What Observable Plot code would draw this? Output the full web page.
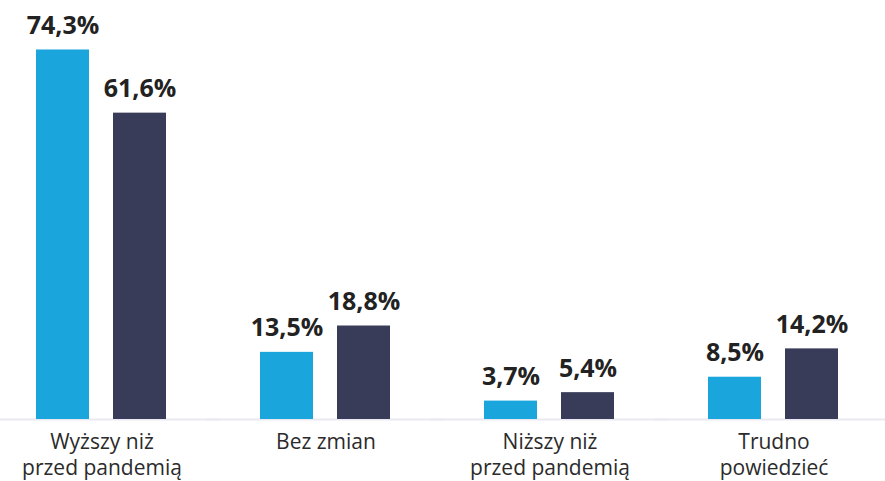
<!DOCTYPE html>
<html>
<head>
<meta charset="utf-8">
<script src="https://cdn.jsdelivr.net/npm/d3@7"></script>
<script src="https://cdn.jsdelivr.net/npm/@observablehq/plot@0.6"></script>
<style>
  html, body { margin: 0; padding: 0; background: #fff; }
</style>
</head>
<body>
<div id="chart"></div>
<script>
const groups = ["Wyższy niż\nprzed pandemią", "Bez zmian", "Niższy niż\nprzed pandemią", "Trudno\npowiedzieć"];
const series = ["Seria 1", "Seria 2"];
const values1 = [74.3, 13.5, 3.7, 8.5];
const values2 = [61.6, 18.8, 5.4, 14.2];
const colors = ["#1aa5dd", "#383c58"];

const data = [];
groups.forEach((g, i) => {
  data.push({group: g, series: series[0], value: values1[i]});
  data.push({group: g, series: series[1], value: values2[i]});
});

const fmt = v => v.toFixed(1).replace(".", ",") + "%";

const chart = Plot.plot({
  width: 885,
  height: 481,
  marginLeft: 0,
  marginRight: 10,
  marginTop: 0,
  marginBottom: 62,
  style: {fontFamily: "'Open Sans', sans-serif", background: "#fff"},
  fx: {domain: groups, paddingInner: 0.2, paddingOuter: 0.053, axis: null, label: null},
  x: {domain: series, paddingInner: 0.308, paddingOuter: 0.303, axis: null, label: null},
  y: {domain: [0, 84.25], axis: null, label: null},
  color: {domain: series, range: colors},
  marks: [
    Plot.ruleY([0], {stroke: "#e9e9f1", strokeWidth: 2, insetLeft: -30, insetRight: -30}),
    Plot.barY(data, {fx: "group", x: "series", y: "value", fill: "series"}),
    Plot.text(data, {fx: "group", x: "series", y: "value", text: d => fmt(d.value), dy: -16, lineAnchor: "bottom", fontWeight: 700, fontSize: 25, fill: "#222"}),
    Plot.text(groups, {fx: d => d, text: d => d, frameAnchor: "bottom", lineAnchor: "top", dy: 12, fontSize: 21, lineHeight: 1.2, fill: "#2b2b2b"})
  ]
});
document.getElementById("chart").appendChild(chart);
</script>
</body>
</html>
